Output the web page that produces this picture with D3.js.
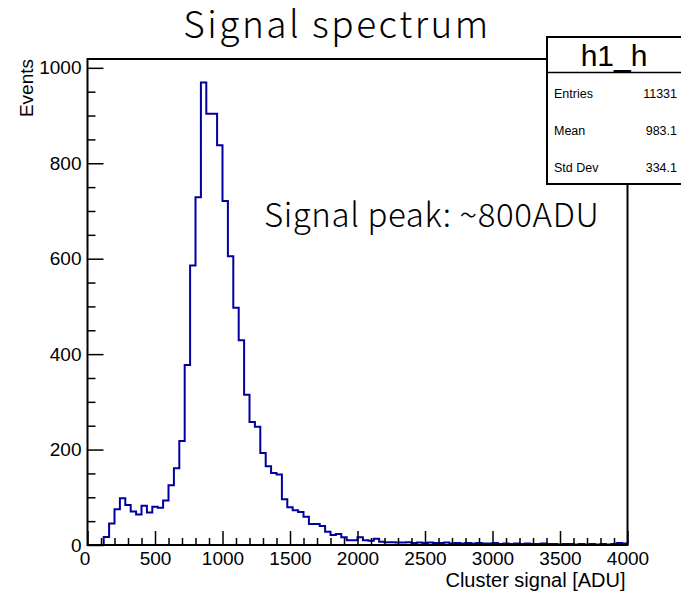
<!DOCTYPE html>
<html>
<head>
<meta charset="utf-8">
<script src="https://cdn.jsdelivr.net/npm/d3@7"></script>
<style>
  body { margin: 0; background: #fff; }
  svg { display: block; }
</style>
</head>
<body>
<div id="chart"></div>
<script>
// Histogram settings: 100 bins of 40 ADU from 0 to 4000
const xRange = [0, 4000];
const binWidth = 40;

// Bin contents
const counts = [
    0, 0, 0, 17, 45, 75, 98, 84, 70, 64,
    82, 68, 80, 78, 93, 125, 161, 218, 377, 586,
    729, 969, 904, 904, 838, 721, 605, 497, 429, 315,
    258, 248, 193, 165, 151, 148, 96, 79, 73, 69,
    59, 44, 44, 40, 28, 21, 23, 16, 10, 10,
    16, 10, 9, 13, 7, 6, 6, 5, 5, 6,
    4, 5, 4, 5, 4, 4, 5, 3, 4, 3,
    4, 3, 4, 3, 3, 4, 2, 3, 2, 3,
    2, 3, 2, 2, 3, 2, 2, 1, 2, 2,
    1, 2, 1, 2, 1, 2, 1, 2, 4, 3
];

const xMajorTicks = [0, 500, 1000, 1500, 2000, 2500, 3000, 3500, 4000];
const yMajorTicks = [0, 200, 400, 600, 800, 1000];
const yMax = 1018.5;

const statsName = "h1_h";
const statsLabels = ["Entries", "Mean", "Std Dev"];
const statsValues = ["11331", "983.1", "334.1"];

const titleText = "Signal spectrum";
const noteText = "Signal peak: ~800ADU";
const xTitle = "Cluster signal [ADU]";
const yTitle = "Events";

// Frame geometry
const W = 681, H = 592;
const frame = {left: 87.5, right: 627.5, top: 59, bottom: 545};
const axisFont = "'Liberation Sans', Arial, Helvetica, sans-serif";
const cjkFont = "'Noto Sans CJK JP', 'Noto Sans', sans-serif";

const svg = d3.select("#chart").append("svg")
    .attr("width", W)
    .attr("height", H);

const x = d3.scaleLinear().domain(xRange).range([frame.left, frame.right]);
const y = d3.scaleLinear().domain([0, yMax]).range([frame.bottom, frame.top]);

// Histogram outline
const points = counts.map((c, i) => [xRange[0] + i * binWidth, c]);
points.push([xRange[1], counts[counts.length - 1]]);

const line = d3.line()
    .x(d => x(d[0]))
    .y(d => y(d[1]))
    .curve(d3.curveStepAfter);

svg.append("path")
    .datum(points)
    .attr("d", line)
    .attr("fill", "none")
    .attr("stroke", "#00009e")
    .attr("stroke-width", 2);

// Minor ticks
const xMinor = d3.range(xRange[0], xRange[1] + 1, 100).filter(v => !xMajorTicks.includes(v));
const yMinor = d3.range(0, yMax, 50).filter(v => !yMajorTicks.includes(v));

svg.append("g")
    .attr("transform", `translate(0,${frame.bottom})`)
    .call(d3.axisBottom(x).tickValues(xMinor).tickSize(-7).tickFormat(""))
    .call(g => g.select(".domain").remove())
    .selectAll("line").attr("stroke-width", 1.5);

svg.append("g")
    .attr("transform", `translate(${frame.left},0)`)
    .call(d3.axisLeft(y).tickValues(yMinor).tickSize(-8).tickFormat(""))
    .call(g => g.select(".domain").remove())
    .selectAll("line").attr("stroke-width", 1.5);

// Major ticks with labels
const xAxis = svg.append("g")
    .attr("transform", `translate(0,${frame.bottom})`)
    .call(d3.axisBottom(x).tickValues(xMajorTicks).tickSize(-14).tickPadding(16).tickFormat(d3.format("d")));
xAxis.select(".domain").remove();
xAxis.selectAll("line").attr("stroke-width", 1.5);
xAxis.selectAll("text")
    .attr("font-family", axisFont)
    .attr("font-size", 19)
    .attr("fill", "#000")
    .attr("dy", "0.2em");
xAxis.selectAll(".tick").filter(d => d === 0).select("text").attr("dx", -3);

const yAxis = svg.append("g")
    .attr("transform", `translate(${frame.left},0)`)
    .call(d3.axisLeft(y).tickValues(yMajorTicks).tickSize(-16).tickPadding(-10).tickFormat(d3.format("d")));
yAxis.select(".domain").remove();
yAxis.selectAll("line").attr("stroke-width", 1.5);
yAxis.selectAll("text")
    .attr("x", -6)
    .attr("font-family", axisFont)
    .attr("font-size", 19)
    .attr("fill", "#000");

// Frame
svg.append("rect")
    .attr("x", frame.left)
    .attr("y", frame.top)
    .attr("width", frame.right - frame.left)
    .attr("height", frame.bottom - frame.top)
    .attr("fill", "none")
    .attr("stroke", "#000")
    .attr("stroke-width", 2);

// Axis titles
svg.append("text")
    .attr("x", frame.right - 2)
    .attr("y", 587)
    .attr("text-anchor", "end")
    .attr("font-family", axisFont)
    .attr("font-size", 20)
    .text(xTitle);

svg.append("text")
    .attr("transform", `translate(33,${frame.top}) rotate(-90)`)
    .attr("text-anchor", "end")
    .attr("font-family", axisFont)
    .attr("font-size", 19)
    .text(yTitle);

// Title and note
svg.append("text")
    .attr("x", 337)
    .attr("y", 38)
    .attr("text-anchor", "middle")
    .attr("font-family", cjkFont)
    .attr("font-weight", 300)
    .attr("font-size", 37)
    .attr("letter-spacing", 2.5)
    .text(titleText);

svg.append("text")
    .attr("x", 264)
    .attr("y", 227)
    .attr("font-family", cjkFont)
    .attr("font-weight", 300)
    .attr("font-size", 33)
    .attr("letter-spacing", 0.6)
    .text(noteText);

// Stats box
const stats = svg.append("g");
stats.append("rect")
    .attr("x", 547)
    .attr("y", 37)
    .attr("width", 150)
    .attr("height", 147)
    .attr("fill", "#fff")
    .attr("stroke", "#000")
    .attr("stroke-width", 2);

stats.append("line")
    .attr("x1", 547).attr("x2", 697)
    .attr("y1", 72.5).attr("y2", 72.5)
    .attr("stroke", "#000")
    .attr("stroke-width", 1.5);

stats.append("text")
    .attr("x", 614)
    .attr("y", 66)
    .attr("text-anchor", "middle")
    .attr("font-family", axisFont)
    .attr("font-size", 30)
    .text(statsName);

statsLabels.forEach((label, i) => {
    const ty = 97.5 + i * 37;
    stats.append("text")
        .attr("x", 554)
        .attr("y", ty)
        .attr("font-family", axisFont)
        .attr("font-size", 12.5)
        .text(label);
    stats.append("text")
        .attr("x", 677)
        .attr("y", ty)
        .attr("text-anchor", "end")
        .attr("font-family", axisFont)
        .attr("font-size", 12.5)
        .text(statsValues[i]);
});
</script>
</body>
</html>
